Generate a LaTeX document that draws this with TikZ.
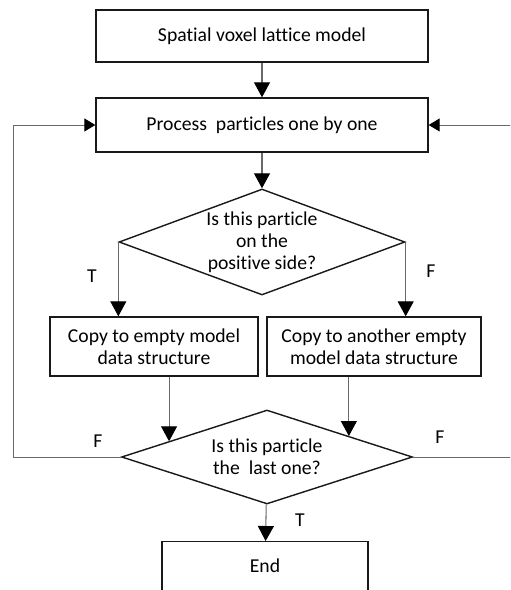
\documentclass[tikz,border=0pt]{standalone}
\usepackage{fontspec}
\setmainfont{Carlito}[Ligatures=CommonOff]
\usetikzlibrary{arrows.meta,positioning,shapes.geometric,calc}
\definecolor{linecolor}{RGB}{105,105,105}

\begin{document}
\begin{tikzpicture}[x=0.02cm,y=-0.02cm,
  stepbox/.style={rectangle,draw=black!90,line width=0.8pt,inner sep=2pt,align=center,
                  font=\fontsize{11.2}{12.5}\selectfont},
  decision/.style={diamond,draw=black!90,line width=0.8pt,inner sep=0pt,align=center,
                   font=\fontsize{11.2}{12.5}\selectfont},
  flow/.style={-{Triangle[length=0.3cm,width=0.32cm,black]},line width=0.6pt,linecolor},
  loop/.style={-{Triangle[length=0.22cm,width=0.26cm,black]},line width=0.5pt,linecolor},
  lbl/.style={font=\fontsize{11.2}{12.5}\selectfont,inner sep=1pt}
]
\useasboundingbox (0,0) rectangle (510,590);
\fill[white] (0,0) rectangle (510,590);
\clip (0,0) rectangle (510,590);
\node[stepbox,minimum width=6.64cm,minimum height=1.04cm] (lattice) at (262,36)
  {Spatial voxel lattice model};
\node[stepbox,minimum width=6.64cm,minimum height=1.08cm] (proc) at (262,125)
  {Process\ \ particles one by one};
\node[decision,aspect=2.7,minimum width=5.72cm,minimum height=2.12cm] (q1) at (262,242)
  {Is this particle\\on the\\positive side?};
\node[stepbox,minimum width=4.16cm,minimum height=1.18cm] (copyA) at (154,346.5)
  {Copy to empty model\\data structure};
\node[stepbox,minimum width=4.28cm,minimum height=1.18cm] (copyB) at (374,346.5)
  {Copy to another empty\\model data structure};
\node[decision,aspect=3.1,minimum width=5.82cm,minimum height=1.88cm] (q2) at (267,457)
  {Is this particle\\the\ \ last one?};
\node[stepbox,anchor=north,minimum width=4.12cm,inner ysep=0pt,
      text height=0.61cm,text depth=0.8cm] (fin) at (265,541) {End};
\coordinate (inA) at ($(q2.west)!0.33!(q2.north)$);
\coordinate (inB) at ($(q2.north)!0.56!(q2.east)$);
\coordinate (lloop) at (13,0);
\coordinate (rloop) at (525,0);
\draw[flow] (lattice) -- (proc);
\draw[flow] (proc) -- (q1);
\draw[flow] (q1.west) -- (q1.west |- copyA.north);
\draw[flow] (q1.east) -- (q1.east |- copyB.north);
\draw[flow] (copyA.south -| inA) -- (inA);
\draw[flow] (copyB.south -| inB) -- (inB);
\draw[flow] (q2) -- (fin);
\draw[loop] (q2.west) -- (q2.west -| lloop) |- (proc.west);
\draw[loop] (q2.east) -- (q2.east -| rloop) |- (proc.east);
\node[lbl] (tpos) at (92,276) {T};
\node[lbl] (fpos) at (431,271) {F};
\node[lbl] (fleft) at (98,441) {F};
\node[lbl] (fright) at (440,437) {F};
\node[lbl] (tlast) at (300,520) {T};
\end{tikzpicture}
\end{document}
